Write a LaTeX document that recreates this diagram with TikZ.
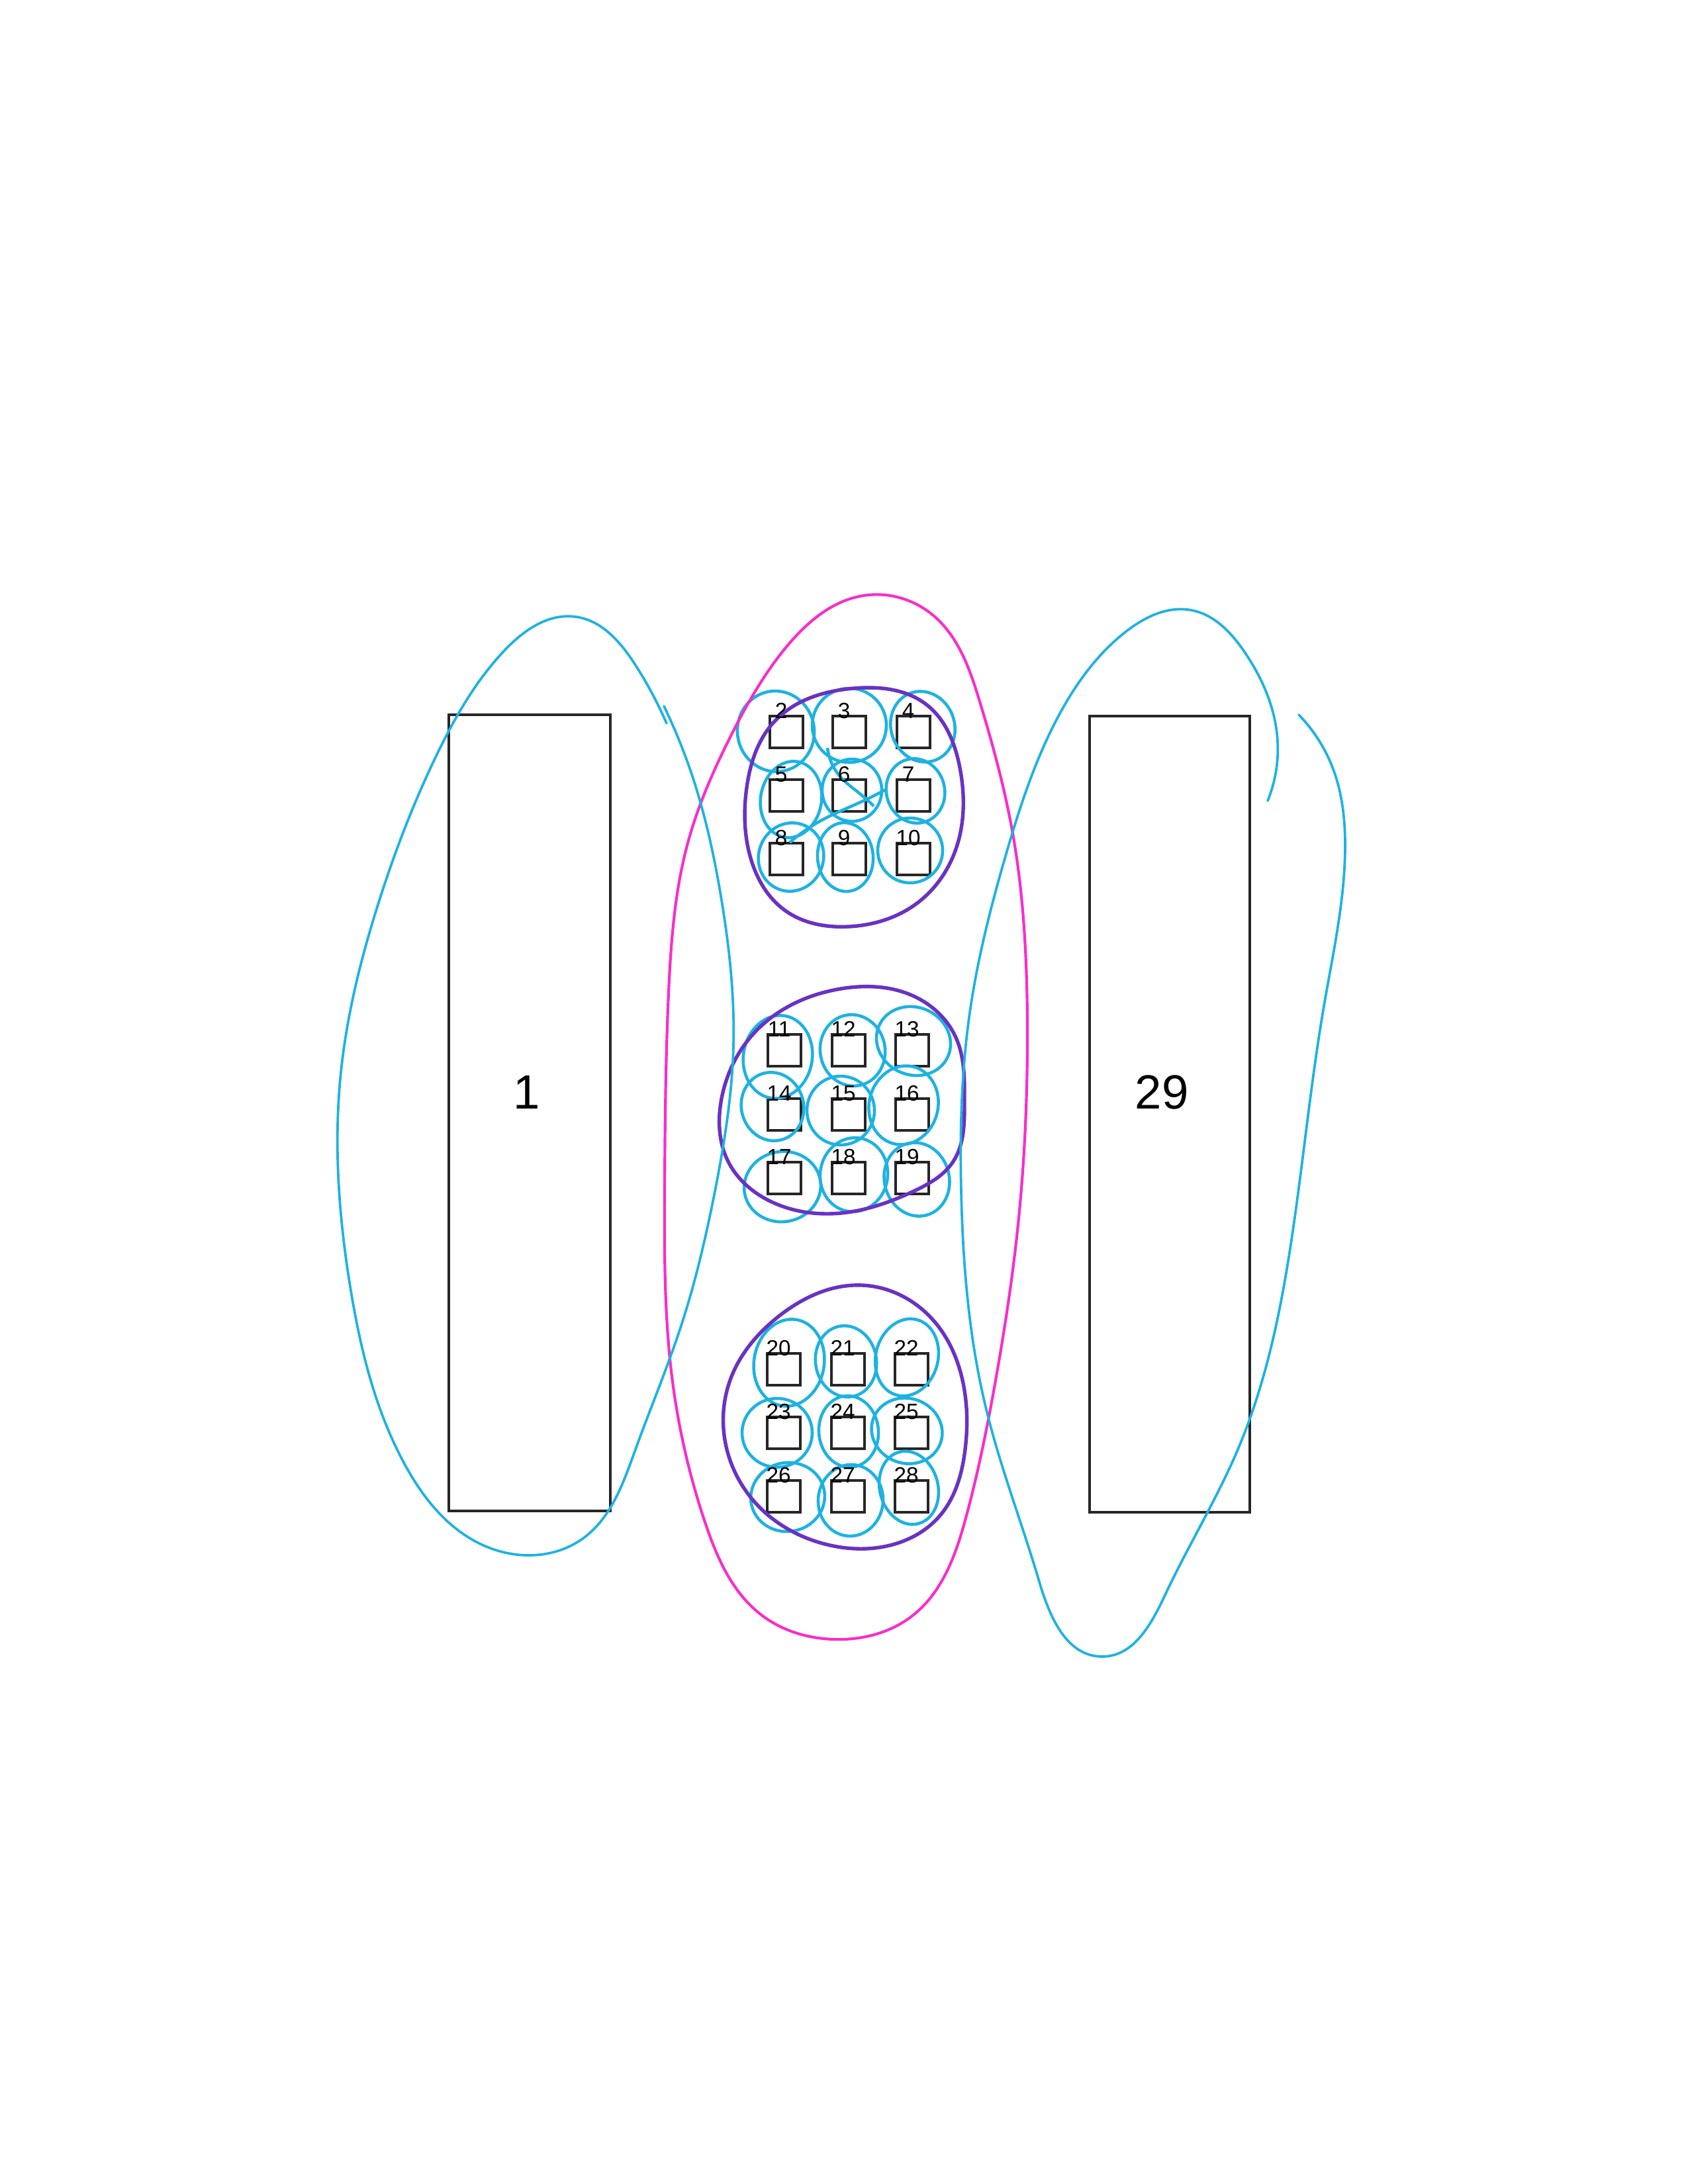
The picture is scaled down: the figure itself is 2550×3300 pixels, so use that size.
\documentclass[tikz,border=0pt]{standalone}
\usepackage{fontspec}
\setmainfont{Liberation Sans}
\usetikzlibrary{calc,hobby}
\definecolor{cyanpen}{RGB}{30,178,225}
\definecolor{magpen}{RGB}{250,45,200}
\definecolor{purpen}{RGB}{105,50,195}
\begin{document}
\begin{tikzpicture}[x=0.0846667mm,y=-0.0846667mm,
  bigbox/.style={draw=black!85, line width=1pt, inner sep=0pt, outer sep=0pt},
  sq/.style={draw=black!85, line width=0.9pt, inner sep=0pt, outer sep=0pt,
    minimum width=50*0.0846667mm, minimum height=48*0.0846667mm},
  lab/.style={font=\fontsize{8}{9}\selectfont, inner sep=0pt, anchor=base},
  biglab/.style={font=\fontsize{17.5}{20}\selectfont, inner sep=0pt, anchor=base},
  smallpen/.style={cyanpen, line width=1.1pt},
  bigpen/.style={cyanpen, line width=0.9pt, line cap=round, line join=round, use Hobby shortcut},
  magline/.style={magpen, line width=1pt, use Hobby shortcut, closed=true},
  purline/.style={purpen, line width=1.3pt, use Hobby shortcut, closed=true}]
\useasboundingbox (0,0) rectangle (2550,3300);

% big boxes
\node[bigbox, minimum width=244*0.0846667mm, minimum height=1203*0.0846667mm] (r1) at (800,1681.5) {};
\node[bigbox, minimum width=242*0.0846667mm, minimum height=1203*0.0846667mm] (r29) at (1767,1683.5) {};
\node[biglab] (l1) at (796,1675) {1};
\node[biglab] (l29) at (1755,1675) {29};

% small squares
\foreach \n/\cx/\cy in {2/1188/1106, 3/1283/1106, 4/1380/1106,
  5/1188/1202, 6/1283/1202, 7/1380/1202,
  8/1188/1298, 9/1283/1298, 10/1380/1298,
  11/1185/1587, 12/1282/1587, 13/1378/1587,
  14/1185/1684, 15/1282/1684, 16/1378/1684,
  17/1185/1780, 18/1282/1780, 19/1378/1780,
  20/1184/2069, 21/1281/2069, 22/1377/2069,
  23/1184/2165, 24/1281/2165, 25/1377/2165,
  26/1184/2261, 27/1281/2261, 28/1377/2261}{
  \node[sq] (s\n) at (\cx,\cy) {};
}

% small cyan loops
\foreach \cx/\cy/\rx/\ry/\a in {1172/1105/58/61/10, 1283/1096/56/56/-15, 1394/1098/48/54/20,
  1195/1208/46/58/-10, 1287/1194/45/47/0, 1383/1195/44/49/15,
  1195/1295/49/52/-20, 1277/1295/42/52/5, 1375/1285/49/49/0,
  1175/1597/52/63/-10, 1288/1587/49/54/10, 1380/1573/57/51/-25,
  1167/1672/47/52/15, 1270/1678/51/52/0, 1365/1670/52/60/-15,
  1182/1793/58/53/10, 1290/1775/51/56/-10, 1385/1782/49/56/15,
  1192/2059/53/66/-10, 1278/2057/46/54/10, 1370/2051/47/59/-15,
  1174/2165/53/52/0, 1282/2163/45/54/5, 1370/2162/54/49/-20,
  1190/2262/56/52/10, 1285/2267/49/54/-5, 1373/2248/44/56/15}{
  \draw[smallpen, rotate around={\a:(\cx,\cy)}] (\cx,\cy) ellipse [x radius=\rx, y radius=\ry];
}

% stray strokes between small loops
\draw[smallpen, use Hobby shortcut] (1193,1273) .. (1240,1240) .. (1300,1212) .. (1340,1192);
\draw[smallpen, use Hobby shortcut] (1250,1130) .. (1268,1172) .. (1300,1200) .. (1320,1218);

% purple group loops
\draw[purline] (1290,1040) .. (1400,1065) .. (1450,1160) .. (1445,1280) .. (1385,1365) .. (1283,1400) .. (1185,1375) .. (1135,1300) .. (1128,1190) .. (1170,1090);
\draw[purline] (1270,1494) .. (1380,1505) .. (1445,1570) .. (1457,1665) .. (1440,1755) .. (1380,1800) .. (1270,1833) .. (1170,1818) .. (1100,1755) .. (1090,1660) .. (1140,1560);
\draw[purline] (1303,1942) .. (1410,1995) .. (1455,2090) .. (1458,2190) .. (1420,2290) .. (1340,2336) .. (1250,2334) .. (1150,2280) .. (1098,2190) .. (1105,2080) .. (1175,1990);

% magenta loop
\draw[magline] (1304,900) .. (1410,930) .. (1480,1060) .. (1530,1260) .. (1552,1550) .. (1538,1850) .. (1505,2080) .. (1460,2290) .. (1380,2440) .. (1260,2477) .. (1150,2440) .. (1065,2300) .. (1015,2080) .. (1004,1800) .. (1010,1500) .. (1040,1270) .. (1105,1110) .. (1190,975);

% big cyan loops
\draw[bigpen] (1007,1093) .. (960,1005) .. (870,932) .. (760,985) .. (660,1140) .. (570,1370) .. (515,1620) .. (530,1950) .. (610,2210) .. (720,2330) .. (800,2350) .. (880,2325) .. (960,2190) .. (1030,2000) .. (1080,1800) .. (1108,1580) .. (1090,1360) .. (1045,1170) .. (1003,1067);
\draw[bigpen] (1915,1210) .. (1930,1120) .. (1880,985) .. (1800,922) .. (1700,955) .. (1600,1080) .. (1520,1290) .. (1465,1530) .. (1452,1800) .. (1490,2130) .. (1570,2390) .. (1665,2503) .. (1760,2410) .. (1870,2190) .. (1950,1880) .. (2000,1520) .. (2032,1280) .. (2015,1165) .. (1962,1080);

% numbers
\foreach \n in {2,...,28}{
  \node[lab] (t\n) at ($(s\n.north)+(-8,3)$) {\n};
}
\end{tikzpicture}
\end{document}
